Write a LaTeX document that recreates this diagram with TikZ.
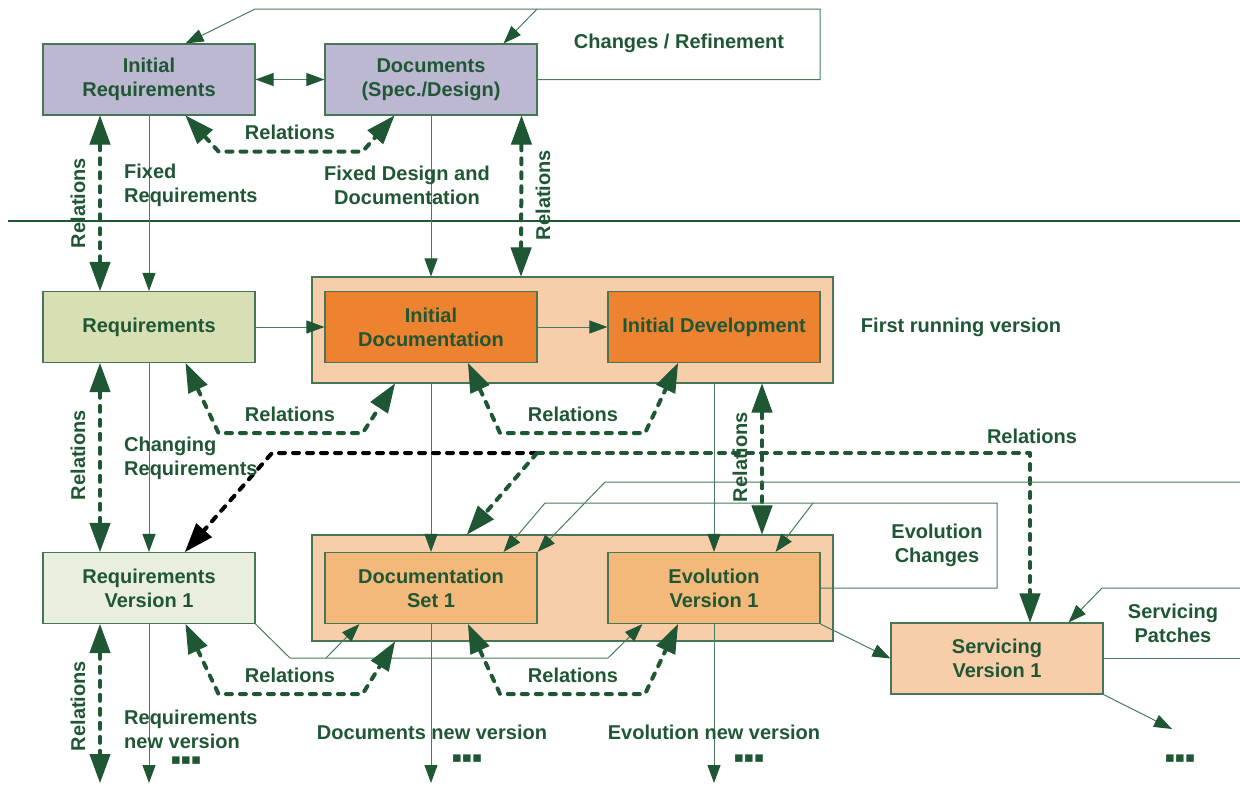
\documentclass[tikz,border=0pt]{standalone}
\usepackage{fontspec}
\setmainfont{Liberation Sans}
\newfontfamily\symfont{DejaVu Sans}
\usetikzlibrary{arrows.meta}
\definecolor{dkgreen}{RGB}{31,87,52}
\definecolor{bordergreen}{RGB}{70,118,86}
\definecolor{linegreen}{RGB}{72,124,92}
\definecolor{lav}{RGB}{189,184,209}
\definecolor{reqg}{RGB}{216,223,180}
\definecolor{lorange}{RGB}{248,206,170}
\definecolor{dorange}{RGB}{237,130,49}
\definecolor{morange}{RGB}{244,184,122}
\definecolor{rvfill}{RGB}{234,238,221}
\begin{document}
\begin{tikzpicture}[x=1pt,y=-1pt,
  lbl/.style={text=dkgreen,font=\fontsize{20}{24}\selectfont\bfseries,align=center,inner sep=0pt},
  box/.style={lbl,draw=bordergreen,line width=1.1pt,minimum width=212pt,minimum height=71pt},
  outerbox/.style={draw=bordergreen,line width=1.1pt,fill=lorange,minimum width=521pt,minimum height=106pt,inner sep=0pt},
  conn/.style={draw=linegreen,line width=1pt},
  tarr/.style={conn,-{Triangle[length=18pt,width=13pt,color=dkgreen]}},
  tdbl/.style={conn,{Triangle[length=18pt,width=13pt,color=dkgreen]}-{Triangle[length=18pt,width=13pt,color=dkgreen]}},
  rel/.style={draw=dkgreen,line width=4pt,dash pattern=on 6pt off 8pt,line cap=round,line join=round},
  relone/.style={rel,-{Triangle[length=29pt,width=21pt,line width=1pt]}},
  reldbl/.style={rel,{Triangle[length=29pt,width=21pt,line width=1pt]}-{Triangle[length=29pt,width=21pt,line width=1pt]}},
  dots/.style={text=dkgreen,font=\symfont\fontsize{15}{15}\selectfont,inner sep=0pt}
]
\useasboundingbox (0,0) rectangle (1240,785);

% ---------- boxes ----------
\node[box,fill=lav] (ir) at (149,79.5) {Initial\\Requirements};
\node[box,fill=lav] (docs) at (431,79.5) {Documents\\(Spec./Design)};
\node[outerbox] (outer1) at (572.5,330) {};
\node[box,fill=reqg] (req) at (149,327) {Requirements};
\node[box,fill=dorange] (idoc) at (431,327) {Initial\\Documentation};
\node[box,fill=dorange] (idev) at (714,327) {Initial Development};
\node[outerbox] (outer2) at (572.5,588) {};
\node[box,fill=rvfill] (rv1) at (149,588) {Requirements\\Version 1};
\node[box,fill=morange] (ds1) at (431,588) {Documentation\\Set 1};
\node[box,fill=morange] (ev1) at (714,588) {Evolution\\Version 1};
\node[box,fill=lorange] (sv1) at (997,658.5) {Servicing\\Version 1};

% ---------- coordinates ----------
\coordinate (divl) at (8,221);
\coordinate (divr) at (1240,221);
\coordinate (cr1) at (820,79.5);
\coordinate (cr2) at (820,9);
\coordinate (cr3) at (255,9);
\coordinate (cr4) at (537,9);
\coordinate (rb) at (537,453);
\coordinate (rbl) at (272,453);
\coordinate (rbr) at (1030,453);
\coordinate (ec1) at (997,588);
\coordinate (ec2) at (997,503);
\coordinate (ec3) at (545,503);
\coordinate (ec4) at (813,503);
\coordinate (fr1) at (1240,482);
\coordinate (fr2) at (605,482);
\coordinate (sp1) at (1240,658.5);
\coordinate (sp2) at (1240,588);
\coordinate (sp3) at (1102,588);
\coordinate (snext) at (1172,729);
\coordinate (rl1) at (290,658);
\coordinate (rl2) at (608,658);
\coordinate (rl3) at (326,658);
\coordinate (endr) at (149,783);
\coordinate (endrel) at (100,783);
\coordinate (endd) at (431,783);
\coordinate (ende) at (714,783);

% ---------- divider ----------
\draw[dkgreen,line width=2.5pt] (divl) -- (divr);

% ---------- top row connectors ----------
\draw[tdbl] (ir.east) -- (docs.west);
\draw[tarr] (docs.east) -- (cr1) -- (cr2) -- (cr3) -- ([xshift=-70pt]ir.north east);
\draw[tarr] (cr4) -- ([xshift=-34pt]docs.north east);
\draw[reldbl] ([xshift=-70pt]ir.south east) -- ++(33,36) -- ++(144,0) -- ([xshift=70pt]docs.south west);
\draw[reldbl] ([xshift=-49pt]ir.south) -- ([xshift=-49pt]req.north);
\draw[tarr] (ir.south) -- (req.north);
\draw[tarr] (docs.south) -- (docs.south |- outer1.north);
\draw[reldbl] ([xshift=-16pt]docs.south east) -- ([xshift=-51.5pt]outer1.north);

% ---------- middle row connectors ----------
\draw[tarr] (req.east) -- (idoc.west);
\draw[tarr] (idoc.east) -- (idev.west);
\draw[reldbl] ([xshift=-70pt]req.south east) -- ++(33,70) -- ++(144,0) -- ([xshift=-177.5pt]outer1.south);
\draw[reldbl] ([xshift=37pt]idoc.south) -- ++(32,70) -- ++(145,0) -- ([xshift=-36pt]idev.south);
\draw[reldbl] ([xshift=-49pt]req.south) -- ([xshift=-49pt]rv1.north);
\draw[tarr] (req.south) -- (rv1.north);
\draw[tarr] (idoc.south |- outer1.south) -- (ds1.north);
\draw[tarr] (idev.south |- outer1.south) -- (ev1.north);
\draw[reldbl] ([xshift=189.5pt]outer1.south) -- ([xshift=189.5pt]outer2.north);

% ---------- cross relations ----------
\draw[relone,draw=black,-{Triangle[length=29pt,width=21pt,line width=1pt,color=black]}] (rb) -- (rbl) -- ([xshift=36pt]rv1.north);
\draw[relone] (rb) -- ([xshift=-105.5pt]outer2.north);
\draw[relone] (rb) -- (rbr) -- ([xshift=33pt]sv1.north);

% ---------- evolution changes ----------
\draw[tarr] (ev1.east) -- (ec1) -- (ec2) -- (ec3) -- ([xshift=-34pt]ds1.north east);
\draw[tarr] (ec4) -- ([xshift=-45pt]ev1.north east);
\draw[tarr] (fr1) -- (fr2) -- (ds1.north east);

% ---------- servicing ----------
\draw[tarr] (ev1.south east) -- (sv1.west);
\draw[conn] (sv1.east) -- (sp1);
\draw[tarr] (sp2) -- (sp3) -- ([xshift=-35pt]sv1.north east);
\draw[tarr] (sv1.south east) -- (snext);

% ---------- bottom row ----------
\draw[tarr] (rv1.south east) -- (rl1) -- (rl2) -- ([xshift=35pt]ev1.south west);
\draw[tarr] (rl3) -- ([xshift=35pt]ds1.south west);
\draw[reldbl] ([xshift=-70pt]rv1.south east) -- ++(33,70) -- ++(144,0) -- ([xshift=-177.5pt]outer2.south);
\draw[reldbl] ([xshift=37pt]ds1.south) -- ++(32,70) -- ++(145,0) -- ([xshift=-36pt]ev1.south);
\draw[reldbl] ([xshift=-49pt]rv1.south) -- (endrel);
\draw[tarr] (rv1.south) -- (endr);
\draw[tarr] (ds1.south) -- (endd);
\draw[tarr] (ev1.south) -- (ende);

% ---------- labels ----------
\node[lbl] (lchg) at (679,43) {Changes / Refinement};
\node[lbl] (lrel1) at (290,132) {Relations};
\node[lbl,rotate=90] (lrel2) at (78,203) {Relations};
\node[lbl,anchor=west,align=left] (lfix) at (124,185) {Fixed\\Requirements};
\node[lbl] (lfd) at (407,185) {Fixed Design and\\Documentation};
\node[lbl,rotate=90] (lrel3) at (543,195) {Relations};
\node[lbl] (lfirst) at (961,327) {First running version};
\node[lbl] (lrel4) at (290,414) {Relations};
\node[lbl] (lrel5) at (573,414) {Relations};
\node[lbl,rotate=90] (lrel6) at (78,455) {Relations};
\node[lbl,anchor=west,align=left] (lchreq) at (124,458) {Changing\\Requirements};
\node[lbl,rotate=90] (lrel7) at (740,457) {Relations};
\node[lbl] (lrel8) at (1032,436) {Relations};
\node[lbl] (levch) at (937,545) {Evolution\\Changes};
\node[lbl] (lsp) at (1173,623) {Servicing\\Patches};
\node[lbl] (lrel9) at (290,675) {Relations};
\node[lbl] (lrel10) at (573,675) {Relations};
\node[lbl,rotate=90] (lrel11) at (78,706) {Relations};
\node[lbl,anchor=west,align=left] (lrnv) at (124,729) {Requirements\\new version};
\node[lbl] (ldnv) at (432,732) {Documents new version};
\node[lbl] (lenv) at (714,732) {Evolution new version};
\node[dots] (d1) at (186,761) {▪▪▪};
\node[dots] (d2) at (467,759) {▪▪▪};
\node[dots] (d3) at (749,759) {▪▪▪};
\node[dots] (d4) at (1180,759) {▪▪▪};
\end{tikzpicture}
\end{document}
